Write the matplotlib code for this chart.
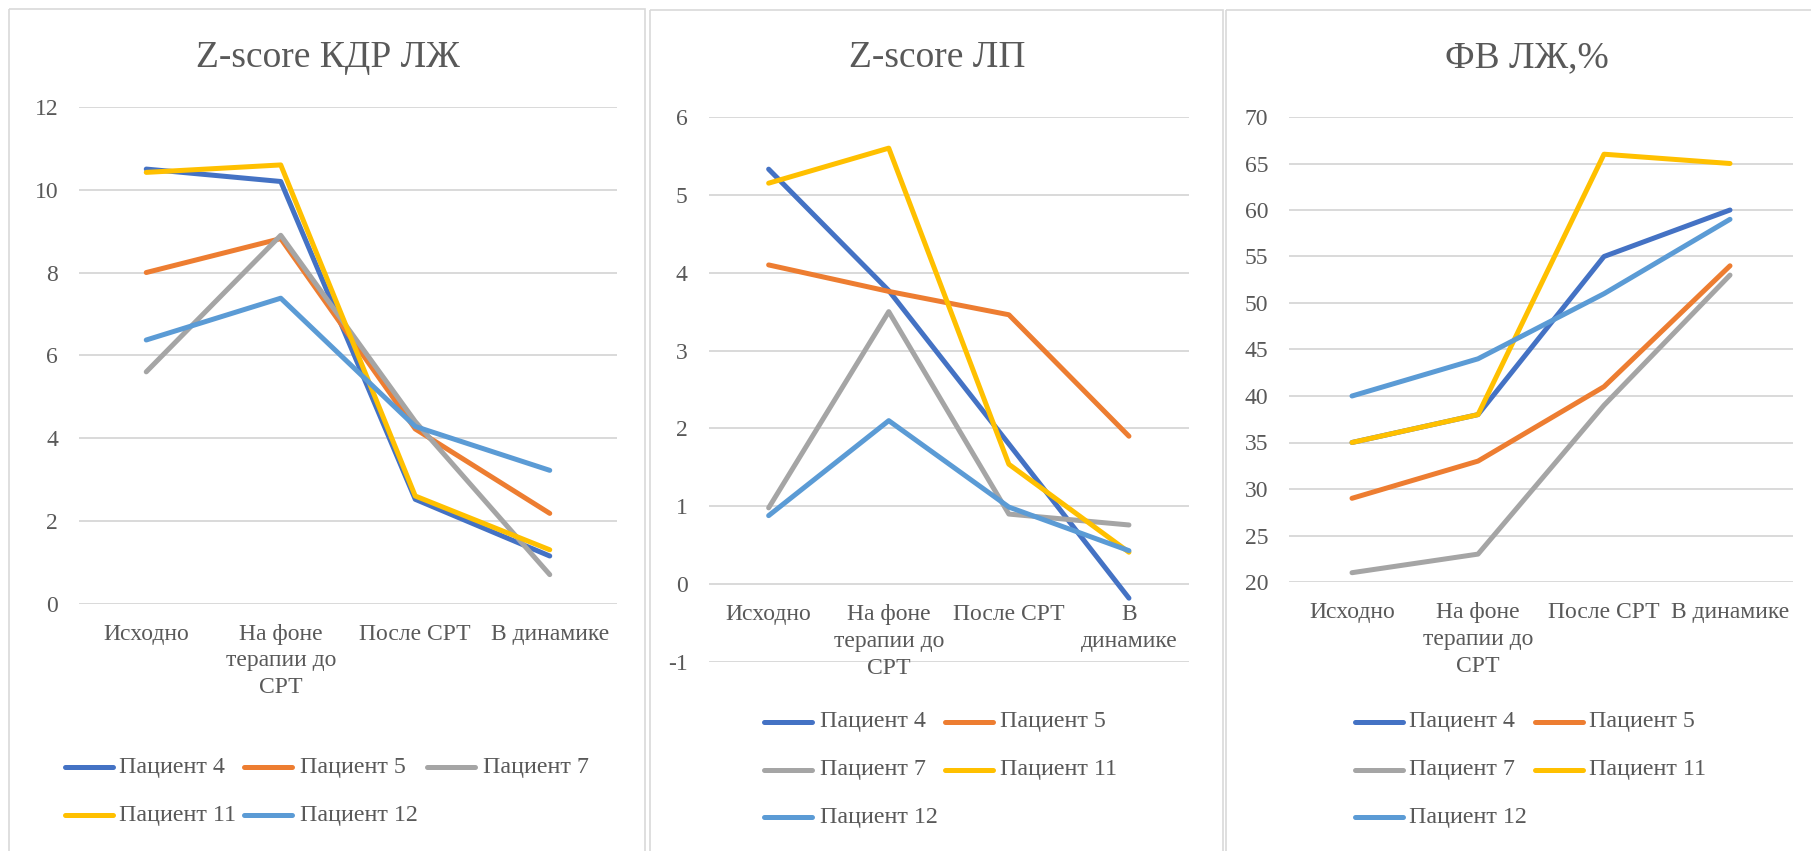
import matplotlib
matplotlib.use("Agg")
import matplotlib.pyplot as plt
from matplotlib.lines import Line2D
from matplotlib.patches import Rectangle

plt.rcParams['font.family'] = ['Liberation Serif', 'DejaVu Serif']

# ---- data ----
patients = ['Пациент 4', 'Пациент 5', 'Пациент 7', 'Пациент 11', 'Пациент 12']
colors = ['#4472C4', '#ED7D31', '#A5A5A5', '#FFC000', '#5B9BD5']

stages = ['Исходно', 'На фоне\nтерапии до\nСРТ', 'После СРТ', 'В динамике']
stages_narrow = ['Исходно', 'На фоне\nтерапии до\nСРТ', 'После СРТ', 'В\nдинамике']

kdr_title = 'Z-score КДР ЛЖ'
kdr_p4 = [10.5, 10.2, 2.52, 1.15]
kdr_p5 = [8.0, 8.82, 4.22, 2.18]
kdr_p7 = [5.6, 8.9, 4.4, 0.7]
kdr_p11 = [10.42, 10.6, 2.6, 1.3]
kdr_p12 = [6.37, 7.38, 4.28, 3.22]
kdr_ticks = [0, 2, 4, 6, 8, 10, 12]

lp_title = 'Z-score ЛП'
lp_p4 = [5.33, 3.77, 1.8, -0.18]
lp_p5 = [4.1, 3.76, 3.46, 1.9]
lp_p7 = [0.98, 3.5, 0.9, 0.76]
lp_p11 = [5.15, 5.6, 1.54, 0.41]
lp_p12 = [0.88, 2.1, 0.99, 0.43]
lp_ticks = [-1, 0, 1, 2, 3, 4, 5, 6]

ef_title = 'ФВ ЛЖ,%'
ef_p4 = [35, 38, 55, 60]
ef_p5 = [29, 33, 41, 54]
ef_p7 = [21, 23, 39, 53]
ef_p11 = [35, 38, 66, 65]
ef_p12 = [40, 44, 51, 59]
ef_ticks = [20, 25, 30, 35, 40, 45, 50, 55, 60, 65, 70]

W, H = 1811, 851
fig = plt.figure(figsize=(W / 100, H / 100), dpi=100)
fig.patch.set_facecolor('white')

TXT = '#595959'
GRID = '#d9d9d9'

# overlay in pixel coordinates for frames and legends
ov = fig.add_axes([0, 0, 1, 1])
ov.set_xlim(0, W)
ov.set_ylim(H, 0)
ov.axis('off')
ov.patch.set_alpha(0)

for x0, x1, y0 in [(9, 645, 9), (650, 1223, 10), (1226, 1830, 10)]:
    ov.add_patch(Rectangle((x0, y0), x1 - x0, 900, fill=False,
                           edgecolor=GRID, lw=1.2))


def panel(left, right, top, bottom, ylim, ticks, series, labels, title,
          title_x, legend_cols, legend_x, legend_text_x, legend_rows):
    ax = fig.add_axes([left / W, 1 - bottom / H, (right - left) / W,
                       (bottom - top) / H])
    ax.patch.set_alpha(0)
    ax.set_xlim(-0.5, 3.5)
    ax.set_ylim(*ylim)
    ax.set_yticks(ticks)
    ax.set_yticklabels([str(t) for t in ticks])
    ax.set_xticks([])
    ax.tick_params(axis='y', length=0, pad=15, labelsize=17, labelcolor=TXT)
    for s in ax.spines.values():
        s.set_visible(False)
    ax.yaxis.grid(True, color=GRID, lw=1.4)
    ax.set_axisbelow(True)
    xs = range(len(labels))
    for vals, c in zip(series, colors):
        ax.plot(xs, vals, color=c, lw=3.6, solid_capstyle='round',
                solid_joinstyle='round', zorder=3)
    base = 0 if ylim[0] < 0 else ylim[0]
    for i, lab in enumerate(labels):
        ax.annotate(lab, xy=(i, base), xycoords='data', xytext=(0, -20),
                    textcoords='offset pixels', ha='center', va='top',
                    fontsize=17, color=TXT, linespacing=1.36,
                    annotation_clip=False)
    ov.text(title_x, 58, title, ha='center', va='center', fontsize=27,
            color=TXT)
    for k, name in enumerate(patients):
        r, c = divmod(k, legend_cols)
        y = legend_rows[r]
        hx = legend_x[c]
        ov.add_line(Line2D([hx + 2, hx + 50], [y, y], color=colors[k],
                           lw=3.6, solid_capstyle='round'))
        ov.text(legend_text_x[c], y, name, ha='left', va='center',
                fontsize=17.3, color=TXT)
    return ax


panel(79, 617, 107, 603.6, (0, 12), kdr_ticks,
      [kdr_p4, kdr_p5, kdr_p7, kdr_p11, kdr_p12], stages, kdr_title,
      328, 3, [63, 242, 425], [119, 300, 483], [767, 815])

panel(708.6, 1189, 117, 662, (-1, 6), lp_ticks,
      [lp_p4, lp_p5, lp_p7, lp_p11, lp_p12], stages_narrow, lp_title,
      937, 2, [762, 943], [820, 1000], [722, 770, 817])

panel(1289, 1793, 117, 582, (20, 70), ef_ticks,
      [ef_p4, ef_p5, ef_p7, ef_p11, ef_p12], stages, ef_title,
      1527, 2, [1353, 1533], [1409, 1589], [722, 770, 817])

fig.savefig('out.png', dpi=100, facecolor='white')
